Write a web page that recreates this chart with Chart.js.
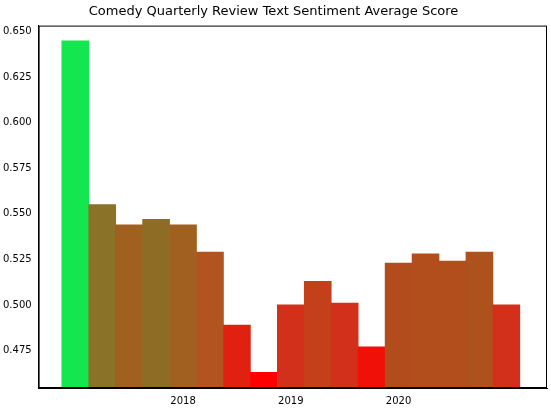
<!DOCTYPE html>
<html><head><meta charset="utf-8">
<script src="https://cdn.jsdelivr.net/npm/chart.js@4"></script>
<style>body{margin:0;background:#fff}#wrap{width:551px;height:412px}</style>
</head><body><div id="wrap"><canvas id="c"></canvas></div>
<script>
const quarters = [2017,2017.25,2017.5,2017.75,2018,2018.25,2018.5,2018.75,2019,2019.25,2019.5,2019.75,2020,2020.25,2020.5,2020.75,2021];
const scores = [0.645,0.555,0.544,0.547,0.544,0.529,0.489,0.463,0.500,0.513,0.501,0.477,0.523,0.528,0.524,0.529,0.500];
const barColors = ["#14e650","#8a7228","#a0601f","#8f6c26","#a0601f","#b15420","#e02010","#ff0000","#d2301a","#c3401a","#d2301a","#f01008","#b24c1c","#b14e1c","#b24e1c","#ad521d","#d2301a"];
const frame = {id:"frame",afterDraw(ch){const a=ch.chartArea,x=ch.ctx;x.save();x.strokeStyle="#000";x.lineWidth=1;x.strokeRect(a.left+0.5,a.top+0.5,a.right-a.left-1,a.bottom-a.top-1);x.restore();}};
new Chart(document.getElementById("c"),{
  type:"bar",
  data:{datasets:[{data:quarters.map((q,i)=>({x:q,y:scores[i]})),backgroundColor:barColors,barPercentage:1,categoryPercentage:1,base:0.4544}]},
  options:{responsive:true,maintainAspectRatio:false,animation:false,
    layout:{padding:{right:4,bottom:2}},
    plugins:{legend:{display:false},tooltip:{enabled:false},
      title:{display:true,text:"Comedy Quarterly Review Text Sentiment Average Score",color:"#000",font:{family:"DejaVu Sans",size:13,weight:"normal"},padding:{top:4,bottom:6}}},
    scales:{
      x:{type:"linear",min:2016.66,max:2021.377,offset:false,grid:{display:false,drawTicks:true,tickLength:4,tickColor:"#000"},border:{color:"#000"},
        ticks:{stepSize:1,color:"#000",font:{family:"DejaVu Sans",size:10},callback:v=>Number.isInteger(v)?String(v):""}},
      y:{min:0.4544,max:0.6533,grid:{display:false,tickLength:4,tickColor:"#000"},border:{color:"#000"},
        afterBuildTicks:s=>{s.ticks=[0.475,0.5,0.525,0.55,0.575,0.6,0.625,0.65].map(v=>({value:v}));},
        ticks:{color:"#000",font:{family:"DejaVu Sans",size:10},callback:v=>v.toFixed(3)}}
    }},
  plugins:[frame]
});
</script></body></html>
